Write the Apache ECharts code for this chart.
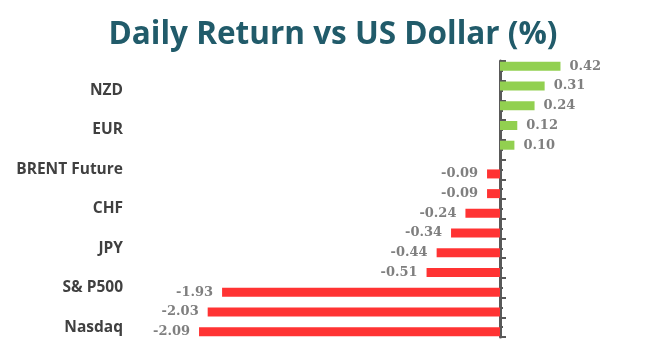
<!DOCTYPE html>
<html>
<head>
<meta charset="utf-8">
<script src="https://cdn.jsdelivr.net/npm/echarts@6/dist/echarts.min.js"></script>
<style>html,body{margin:0;padding:0;background:#fff;}#c{width:666px;height:364px;}</style>
</head>
<body>
<div id="c"></div>
<script>
// Categories top to bottom (only every other label is printed in the reference)
const categories = ['AUD', 'NZD', 'GBP', 'EUR', 'CAD', 'BRENT Future', 'Gold', 'CHF', 'CNH', 'JPY', 'Dow Jones', 'S& P500', 'Nikkei', 'Nasdaq'];
const returns = [0.42, 0.31, 0.24, 0.12, 0.10, -0.09, -0.09, -0.24, -0.34, -0.44, -0.51, -1.93, -2.03, -2.09];
const titleText = 'Daily Return vs US Dollar (%)';

const gainData = returns.map(v => v >= 0 ? v : '-');
const lossData = returns.map(v => v < 0 ? v : '-');

const chart = echarts.init(document.getElementById('c'));
const valueLabel = {
  show: true,
  distance: 9,
  fontFamily: 'DejaVu Serif',
  fontWeight: 'bold',
  fontSize: 13,
  color: '#7f7f7f',
  formatter: p => Number(p.value).toFixed(2)
};
chart.setOption({
  animation: false,
  title: {
    text: titleText,
    left: 'center',
    top: 14,
    textStyle: { fontFamily: 'Open Sans', fontWeight: 'bold', fontSize: 31.5, color: '#215b6a' }
  },
  grid: { left: 140, right: 94, top: 61, bottom: 27, containLabel: false, outerBoundsMode: 'none' },
  xAxis: {
    type: 'value', min: -2.5, max: 0.5, show: false
  },
  yAxis: [{
    // axis line drawn at x = 0, with ticks on band edges
    type: 'category',
    data: categories,
    inverse: true,
    position: 'left',
    axisLine: { show: true, onZero: true, onZeroAxisIndex: 0, lineStyle: { color: '#595959', width: 3 } },
    axisTick: { show: true, inside: true, length: 6, interval: 0, lineStyle: { color: '#595959', width: 2 } },
    axisLabel: { show: false },
    splitLine: { show: false }
  }, {
    // short ticks at band centres
    type: 'category',
    data: categories,
    inverse: true,
    position: 'right',
    axisLine: { show: false, onZero: true, onZeroAxisIndex: 0 },
    axisTick: { show: true, alignWithLabel: true, inside: false, length: 3, interval: 0, lineStyle: { color: '#595959', width: 2 } },
    axisLabel: { show: false },
    splitLine: { show: false }
  }, {
    // category labels at the low end of the chart
    type: 'category',
    data: categories,
    inverse: true,
    position: 'left',
    axisLine: { show: false, onZero: false },
    axisTick: { show: false },
    axisLabel: {
      show: true,
      interval: (i) => i % 2 === 1,
      margin: 17,
      fontFamily: 'Open Sans',
      fontWeight: 'bold',
      fontSize: 15.5,
      color: '#404040'
    },
    splitLine: { show: false }
  }],
  series: [{
    name: 'Gain',
    type: 'bar',
    yAxisIndex: 0,
    data: gainData,
    barWidth: 9,
    barGap: '0%',
    itemStyle: { color: '#92d050' },
    label: Object.assign({ position: 'right' }, valueLabel)
  }, {
    name: 'Loss',
    type: 'bar',
    yAxisIndex: 0,
    data: lossData,
    barWidth: 9,
    barGap: '0%',
    itemStyle: { color: '#ff3333' },
    label: Object.assign({ position: 'left' }, valueLabel)
  }]
});
</script>
</body>
</html>
